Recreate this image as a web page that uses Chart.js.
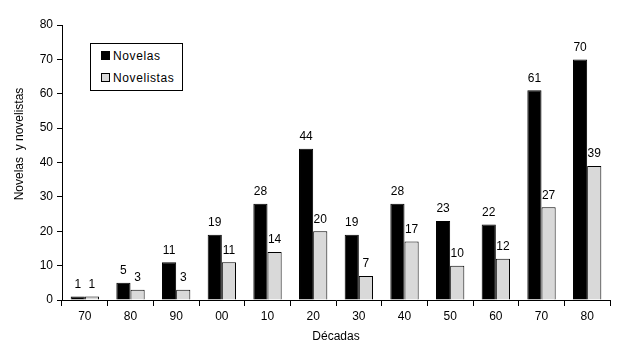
<!DOCTYPE html>
<html>
<head>
<meta charset="utf-8">
<script src="https://cdn.jsdelivr.net/npm/chart.js@4"></script>
<style>
  html, body { margin: 0; padding: 0; background: #fff; }
  #wrap { position: relative; width: 629px; height: 344px; }
  #legend {
    position: absolute; left: 90px; top: 43px; width: 91px; height: 46px;
    border: 1px solid #000; background: #fff;
    font: 12px "Liberation Sans", Arial, sans-serif; letter-spacing: 0.6px;
  }
  #legend div { position: absolute; left: 10px; height: 14px; line-height: 14px; }
  #legend span.sw {
    display: inline-block; width: 7px; height: 7px; border: 1px solid #000;
    margin-right: 3px; vertical-align: 0px;
  }
</style>
</head>
<body>
<div id="wrap">
  <canvas id="c" width="629" height="344"></canvas>
  <div id="legend">
    <div style="top:5px"><span class="sw" style="background:#000"></span>Novelas</div>
    <div style="top:27px"><span class="sw" style="background:#d9d9d9"></span>Novelistas</div>
  </div>
</div>
<script>
// ── Data ─────────────────────────────────────
const decades    = ['70', '80', '90', '00', '10', '20', '30', '40', '50', '60', '70', '80'];
const novelas    = [1, 5, 11, 19, 28, 44, 19, 28, 23, 22, 61, 70];
const novelistas = [1, 3, 3, 11, 14, 20, 7, 17, 10, 12, 27, 39];
const yTicks     = [0, 10, 20, 30, 40, 50, 60, 70, 80];

const FONT = "'Liberation Sans', Arial, sans-serif";

// ── Value labels above bars + y title ────────
const barLabels = {
  id: 'barLabels',
  afterDatasetsDraw(chart) {
    const ctx = chart.ctx;
    ctx.save();
    ctx.font = '12px ' + FONT;
    ctx.fillStyle = '#000';
    ctx.textAlign = 'center';
    ctx.textBaseline = 'bottom';
    chart.data.datasets.forEach((ds, i) => {
      chart.getDatasetMeta(i).data.forEach((bar, j) => {
        ctx.fillText(String(ds.data[j]), bar.x, bar.y - 6);
      });
    });
    // y axis title
    ctx.translate(20, 144);
    ctx.rotate(-Math.PI / 2);
    ctx.textBaseline = 'middle';
    ctx.fillText('Novelas  y novelistas', 0, 0);
    ctx.restore();
  }
};

new Chart(document.getElementById('c'), {
  type: 'bar',
  data: {
    labels: decades,
    datasets: [
      {
        label: 'Novelas',
        data: novelas,
        backgroundColor: '#000',
        borderColor: '#000',
        borderWidth: 1,
        categoryPercentage: 0.62,
        barPercentage: 1,
      },
      {
        label: 'Novelistas',
        data: novelistas,
        backgroundColor: '#d9d9d9',
        borderColor: '#000',
        borderWidth: 1,
        categoryPercentage: 0.62,
        barPercentage: 1,
      },
    ],
  },
  options: {
    responsive: false,
    animation: false,
    layout: { padding: { top: 25, right: 19, left: 0, bottom: 0 } },
    plugins: {
      legend: { display: false },
      tooltip: { enabled: false },
    },
    scales: {
      x: {
        grid: {
          offset: true,
          drawOnChartArea: false,
          color: '#000',
          tickLength: 6,
        },
        border: { color: '#000', width: 1 },
        ticks: { font: { family: FONT, size: 12 }, color: '#000', padding: 3 },
        title: {
          display: true,
          text: 'Décadas',
          font: { family: FONT, size: 12 },
          color: '#000',
          padding: { top: 4, bottom: 0 },
        },
        afterFit(scale) { scale.height = 44; },
      },
      y: {
        min: 0,
        max: 80,
        afterBuildTicks(scale) { scale.ticks = yTicks.map(v => ({ value: v })); },
        grid: {
          drawOnChartArea: false,
          color: '#000',
          tickLength: 5,
        },
        border: { color: '#000', width: 1 },
        ticks: { font: { family: FONT, size: 12 }, color: '#000', padding: 4 },
        afterFit(scale) { scale.width = 62; },
      },
    },
  },
  plugins: [barLabels],
});
</script>
</body>
</html>
